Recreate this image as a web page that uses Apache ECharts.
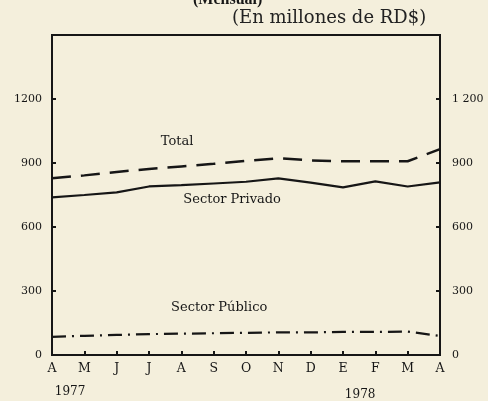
<!DOCTYPE html>
<html>
<head>
<meta charset="utf-8">
<script src="https://cdn.jsdelivr.net/npm/echarts@6/dist/echarts.min.js"></script>
<style>
  html, body { margin: 0; padding: 0; background: #f4efdc; }
  #chart { width: 488px; height: 401px; }
</style>
</head>
<body>
<div id="chart"></div>
<script>
// meses abril 1977 - abril 1978
const months = ['A', 'M', 'J', 'J', 'A', 'S', 'O', 'N', 'D', 'E', 'F', 'M', 'A']
const total = [828, 842, 858, 872, 884, 896, 910, 922, 912, 908, 908, 908, 965]
const privado = [739, 750, 762, 790, 796, 804, 812, 828, 808, 786, 814, 790, 809]
const publico = [85, 90, 94, 98, 100, 102, 104, 106, 106, 108, 108, 110, 89]
const yTicks = [0, 300, 600, 900, 1200]

const serif = 'DejaVu Serif'
const ink = '#161616'

let chart = echarts.init(document.getElementById('chart'))

let yAxisBase = function (pos) {
  return {
    type: 'value',
    position: pos,
    min: 0,
    max: 1500,
    interval: 300,
    axisLine: {show: true, lineStyle: {color: ink, width: 2}},
    axisTick: {show: true, inside: true, length: 4, lineStyle: {color: ink, width: 2}},
    splitLine: {show: false},
    axisLabel: {
      color: ink,
      fontFamily: serif,
      fontSize: 11,
      margin: pos === 'left' ? 10 : 12,
      formatter: function (v) {
        if (yTicks.indexOf(v) < 0) return ''
        if (pos === 'right' && v >= 1000) return '1 200' // espacio como en el original
        return String(v)
      }
    }
  }
}

let option = {
  backgroundColor: '#f4efdc',
  animation: false,
  grid: {
    left: 52, right: 48, top: 35, bottom: 46,
    show: true,
    borderColor: ink,
    borderWidth: 2
  },
  xAxis: {
    type: 'category',
    data: months,
    boundaryGap: false,
    axisLine: {lineStyle: {color: ink, width: 2}},
    axisTick: {inside: true, length: 4, lineStyle: {color: ink, width: 2}},
    axisLabel: {
      color: ink, fontFamily: serif, fontSize: 12.5, margin: 7,
      interval: 0
    }
  },
  yAxis: [yAxisBase('left'), yAxisBase('right')],
  series: [
    {
      name: 'Total',
      type: 'line',
      data: total,
      symbol: 'none',
      lineStyle: {color: ink, width: 2.5, type: [19, 10]}
    },
    {
      name: 'Sector Privado',
      type: 'line',
      data: privado,
      symbol: 'none',
      lineStyle: {color: ink, width: 2.2}
    },
    {
      name: 'Sector Público',
      type: 'line',
      data: publico,
      symbol: 'none',
      lineStyle: {color: ink, width: 2.2, type: [14, 6, 2, 6]}
    }
  ]
}
chart.setOption(option)

// posicion entre categorias (el eje de categorias redondea los indices)
let at = function (i, v) {
  let i0 = Math.floor(i)
  let a = chart.convertToPixel({gridIndex: 0}, [i0, v])
  let b = chart.convertToPixel({gridIndex: 0}, [i0 + 1, v])
  let f = i - i0
  return [a[0] + (b[0] - a[0]) * f, a[1]]
}
let pTotal = at(3.87, 998)
let pPriv = at(5.57, 727)
let pPub = at(5.17, 220)
let p77 = at(0.56, 0)
let p78 = at(9.53, 0)

let lbl = function (p, txt, size, dy) {
  return {
    type: 'text', x: p[0], y: p[1] + (dy || 0),
    style: {
      text: txt, fontFamily: serif, fontSize: size, fill: ink,
      align: 'center', verticalAlign: 'middle'
    }
  }
}

chart.setOption({
  graphic: [
    {type: 'text', left: 193, top: -8, style: {text: '(Mensual)', fontFamily: 'Liberation Serif', fontWeight: 'bold', fontSize: 16, fill: ink}},
    {type: 'text', left: 232, top: 9, style: {text: '(En millones de RD$)', fontFamily: serif, fontSize: 18, fill: '#222'}},
    lbl(pTotal, 'Total', 13),
    lbl(pPriv, 'Sector Privado', 13),
    lbl(pPub, 'Sector Público', 13),
    lbl(p77, '1977', 12, 37),
    lbl(p78, '1978', 12, 40)
  ]
})
</script>
</body>
</html>
